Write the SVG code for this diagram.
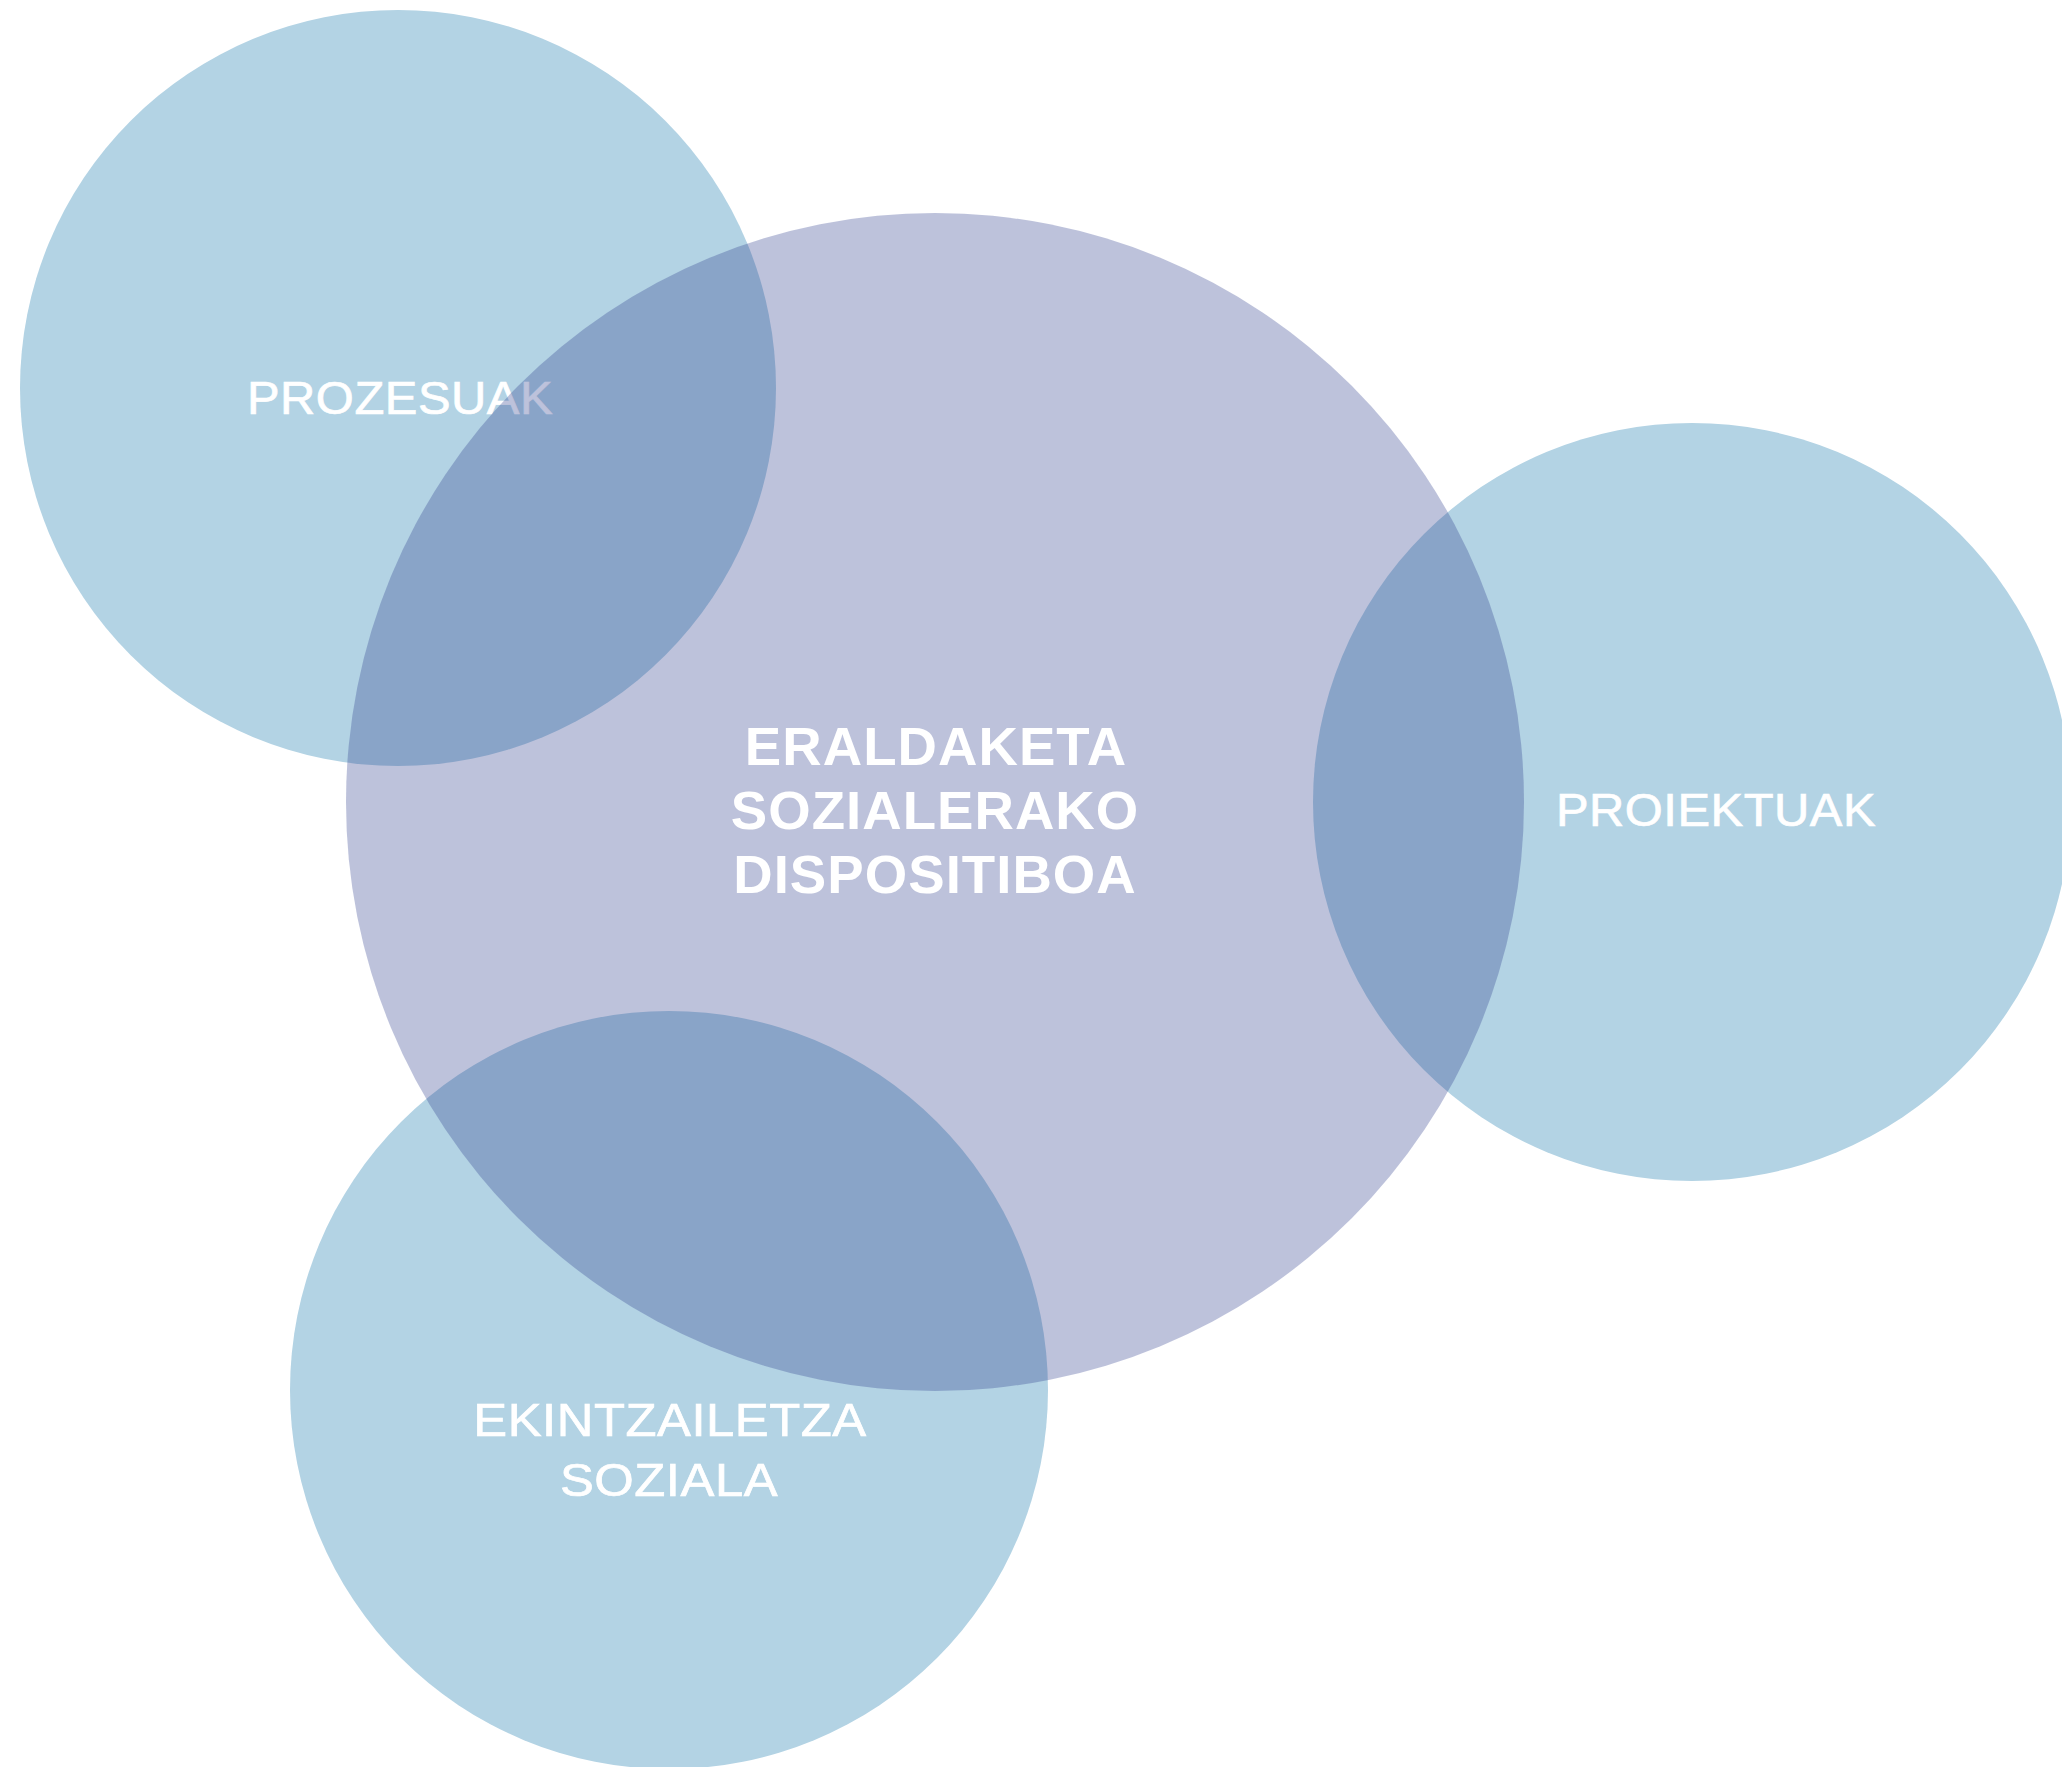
<svg xmlns="http://www.w3.org/2000/svg" width="2062" height="1767" viewBox="0 0 2062 1767">
<style>
.blue{fill:#B3D3E4}
.core{fill:#33428F;fill-opacity:0.32}
.lbl{font-family:"Liberation Sans",Arial,sans-serif;fill:#FFFFFF;stroke:#FFFFFF;stroke-width:0.7px;text-anchor:middle;font-size:47px;letter-spacing:0.5px}
.main{font-family:"Liberation Sans",Arial,sans-serif;fill:#FFFFFF;text-anchor:middle;font-size:53px;font-weight:bold;letter-spacing:1px}
</style>
<rect width="2062" height="1767" fill="#FFFFFF"/>
<g id="prozesuak">
<circle class="blue" cx="398" cy="388" r="378"/>
<text class="lbl" transform="translate(400 414) scale(1.04 1)">PROZESUAK</text>
</g>
<g id="proiektuak">
<circle class="blue" cx="1692" cy="802" r="379"/>
<text class="lbl" transform="translate(1716 826) scale(1.04 1)">PROIEKTUAK</text>
</g>
<g id="ekintzailetza">
<circle class="blue" cx="669" cy="1390" r="379"/>
<text class="lbl" transform="translate(670 1436) scale(1.08 1)">EKINTZAILETZA</text>
<text class="lbl" transform="translate(669 1496) scale(1.08 1)">SOZIALA</text>
</g>
<g id="dispositiboa">
<circle class="core" cx="935" cy="802" r="589"/>
<text class="main" transform="translate(936 765) scale(1.03 1)">ERALDAKETA</text>
<text class="main" transform="translate(935 829) scale(1.03 1)">SOZIALERAKO</text>
<text class="main" transform="translate(935 893) scale(1.03 1)">DISPOSITIBOA</text>
</g>
<g id="connectors"></g>
</svg>
